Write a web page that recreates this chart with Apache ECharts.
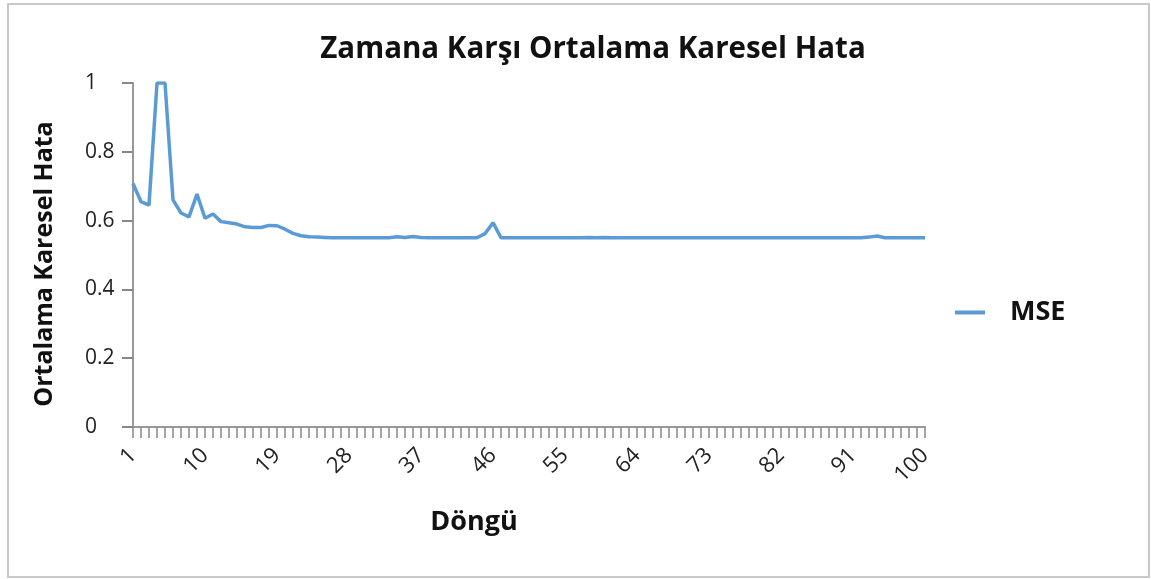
<!DOCTYPE html>
<html>
<head>
<meta charset="utf-8">
<script src="https://cdn.jsdelivr.net/npm/echarts@6/dist/echarts.min.js"></script>
<style>
html,body{margin:0;padding:0;background:#fff;}
#c{width:1151px;height:579px;}
</style>
</head>
<body>
<div id="c"></div>
<script>
const titleText = 'Zamana Karşı Ortalama Karesel Hata';
const xAxisName = 'Döngü';
const yAxisName = 'Ortalama Karesel Hata';
const seriesName = 'MSE';
const categories = [];
for (let i = 1; i <= 100; i++) categories.push(String(i));
const mseValues = [
  0.708, 0.655, 0.645, 1.0, 1.0, 0.66, 0.622, 0.611, 0.677, 0.607,
  0.619, 0.597, 0.594, 0.59, 0.582, 0.58, 0.58, 0.586, 0.585, 0.575,
  0.563, 0.556, 0.553, 0.552, 0.551, 0.55, 0.55, 0.55, 0.55, 0.55,
  0.55, 0.55, 0.55, 0.553, 0.551, 0.554, 0.551, 0.55, 0.55, 0.55,
  0.55, 0.55, 0.55, 0.55, 0.562, 0.594, 0.55, 0.55, 0.55, 0.55,
  0.55, 0.55, 0.55, 0.55, 0.55, 0.55, 0.55, 0.551, 0.55, 0.551,
  0.55, 0.55, 0.55, 0.55, 0.55, 0.55, 0.55, 0.55, 0.55, 0.55,
  0.55, 0.55, 0.55, 0.55, 0.55, 0.55, 0.55, 0.55, 0.55, 0.55,
  0.55, 0.55, 0.55, 0.55, 0.55, 0.55, 0.55, 0.55, 0.55, 0.55,
  0.55, 0.55, 0.552, 0.555, 0.55, 0.55, 0.55, 0.55, 0.55, 0.55
];
const yTicks = { min: 0, max: 1, interval: 0.2 };

const font = '"Open Sans", sans-serif';
const chart = echarts.init(document.getElementById('c'), null, { renderer: 'canvas' });
chart.setOption({
  backgroundColor: '#ffffff',
  animation: false,
  graphic: [{
    type: 'rect',
    shape: { x: 8, y: 4, width: 1141, height: 573 },
    style: { fill: 'none', stroke: '#c8c8c8', lineWidth: 2 },
    silent: true
  }],
  title: {
    text: titleText,
    left: 588, textAlign: 'center', top: 30,
    textStyle: { fontFamily: font, fontWeight: 'bold', fontSize: 29.5, color: '#111' }
  },
  legend: {
    orient: 'vertical',
    left: 950, top: 294,
    itemWidth: 30, itemHeight: 4,
    icon: 'rect',
    data: [seriesName],
    textStyle: { fontFamily: font, fontWeight: 'bold', fontSize: 27, color: '#111', padding: [0, 0, 0, 20] }
  },
  grid: { left: 133, right: 226, top: 83, bottom: 152, containLabel: false },
  xAxis: {
    type: 'category',
    data: categories,
    boundaryGap: false,
    name: xAxisName,
    nameLocation: 'middle',
    nameGap: 82,
    nameTextStyle: { fontFamily: font, fontWeight: 'bold', fontSize: 27, color: '#111', padding: [0, 110, 0, 0] },
    axisLine: { lineStyle: { color: '#999', width: 2 } },
    axisTick: { interval: 0, length: 11, lineStyle: { color: '#888', width: 1.5 } },
    axisLabel: { interval: 8, rotate: 45, margin: 25, fontFamily: font, fontSize: 22, color: '#222' },
    splitLine: { show: false }
  },
  yAxis: {
    type: 'value',
    min: yTicks.min, max: yTicks.max, interval: yTicks.interval,
    name: yAxisName,
    nameLocation: 'middle',
    nameGap: 76,
    nameTextStyle: { fontFamily: font, fontWeight: 'bold', fontSize: 25, color: '#111', padding: [0, 18, 0, 0] },
    axisLine: { show: true, lineStyle: { color: '#999', width: 2 } },
    axisTick: { show: true, length: 11, lineStyle: { color: '#888', width: 2 } },
    axisLabel: { align: 'left', margin: 48, fontFamily: font, fontSize: 21, color: '#222' },
    splitLine: { show: false }
  },
  series: [{
    name: seriesName,
    type: 'line',
    data: mseValues,
    showSymbol: false,
    symbol: 'none',
    lineStyle: { color: '#5b9bd5', width: 3.5 },
    itemStyle: { color: '#5b9bd5' }
  }]
});
</script>
</body>
</html>
